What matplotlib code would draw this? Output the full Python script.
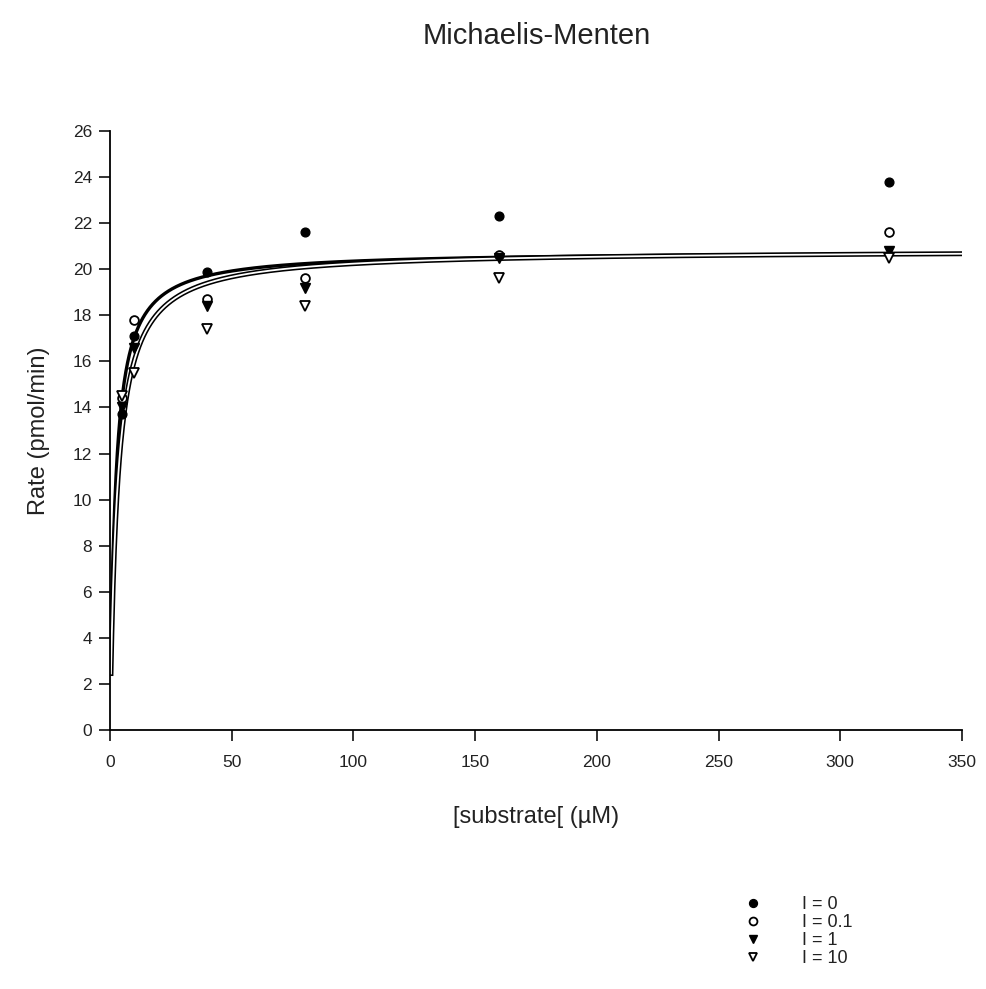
import numpy as np
import matplotlib
matplotlib.use("Agg")
import matplotlib.pyplot as plt

plt.rcParams['font.family'] = ['Liberation Sans', 'DejaVu Sans']

substrate = [5, 10, 40, 80, 160, 320]
rate_I0 = [13.7, 17.1, 19.9, 21.6, 22.3, 23.8]
rate_I01 = [14.4, 17.8, 18.7, 19.6, 20.6, 21.6]
rate_I1 = [14.0, 16.6, 18.4, 19.2, 20.5, 20.8]
rate_I10 = [14.5, 15.5, 17.4, 18.4, 19.6, 20.5]
labels = ["I = 0", "I = 0.1", "I = 1", "I = 10"]

# Michaelis-Menten fit parameters (Vmax, Km) for the two drawn curves
fit_vmax = [20.8, 20.85]
fit_km = [2.2, 3.0]

fig = plt.figure(figsize=(9.87, 9.89), dpi=100)
ax = fig.add_axes([110/987, 1-730/989, (962-110)/987, (730-131)/989])

xs = np.linspace(0.4, 350, 2000)
# curve 1: plain black
ax.plot(xs, fit_vmax[0]*xs/(fit_km[0]+xs), color='black', lw=2.4, zorder=2)
# curve 2: white with black outline
y2 = fit_vmax[1]*xs/(fit_km[1]+xs)
ax.plot(xs, y2, color='black', lw=3.6, zorder=2)
ax.plot(xs, y2, color='white', lw=1.3, zorder=2.1)

ms = 6.3
h0, = ax.plot(substrate, rate_I0, 'o', color='black', ms=ms, ls='none', zorder=3)
h1, = ax.plot(substrate, rate_I01, 'o', mfc='white', mec='black', mew=1.3, ms=ms, ls='none', zorder=3)
h2, = ax.plot(substrate, rate_I1, 'v', color='black', ms=ms+0.5, ls='none', zorder=3)
h3, = ax.plot(substrate, rate_I10, 'v', mfc='white', mec='black', mew=1.3, ms=ms+0.5, ls='none', zorder=3)

ax.set_xlim(0, 350)
ax.set_ylim(0, 26)
ax.set_xticks(np.arange(0, 351, 50))
ax.set_yticks(np.arange(0, 27, 2))
ax.spines['top'].set_visible(False)
ax.spines['right'].set_visible(False)
for s in ['left', 'bottom']:
    ax.spines[s].set_linewidth(1.3)
ax.tick_params(direction='out', length=8, width=1.3, labelsize=12.5, colors='#222222')
ax.tick_params(axis='x', pad=10)
ax.tick_params(axis='y', pad=5)

ax.set_xlabel("[substrate[ (µM)", fontsize=17, labelpad=26, color='#222222')
ax.set_ylabel("Rate (pmol/min)", fontsize=17, labelpad=16, color='#222222')
fig.text(537/987, 1-36/989, "Michaelis-Menten", ha='center', va='center', fontsize=21, color='#222222')

fig.legend([h0, h1, h2, h3], labels, loc='upper left', frameon=False,
           bbox_to_anchor=(728/987, 1-880/989), fontsize=13, handletextpad=2.2,
           labelspacing=0.05, handlelength=1.0, markerscale=0.9, labelcolor='#222222')

fig.savefig("out.png", dpi=100)
